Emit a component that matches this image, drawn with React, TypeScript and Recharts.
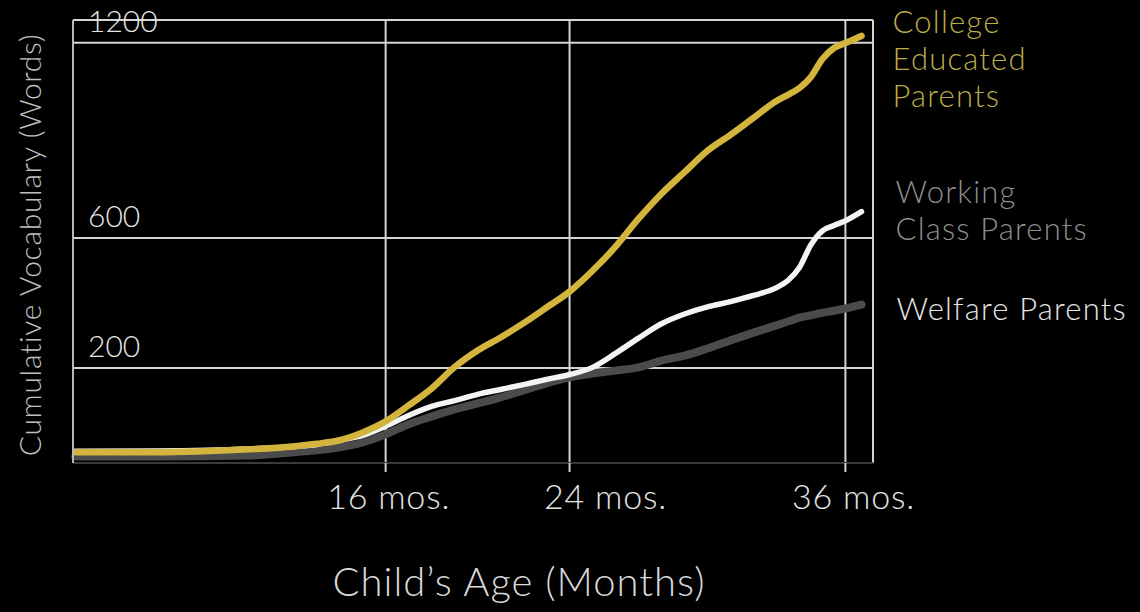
import React from "react";
import { LineChart, Line, XAxis, YAxis, CartesianGrid } from "recharts";

// ---- data ----
const months = [2.5, 6, 10, 12, 13, 14, 15, 16, 17, 18, 19, 20, 21, 22, 23, 24, 25, 26, 27, 28, 29, 30, 31, 32, 33, 33.5, 34, 34.5, 35, 35.5, 36, 36.7];
const collegeEducated = [-59, -59, -50, -41, -33, -22, 2, 36, 85, 137, 203, 254, 294, 338, 386, 435, 499, 573, 659, 736, 802, 868, 917, 969, 1021, 1040, 1061, 1095, 1150, 1184, 1199, 1221];
const workingClass = [-56, -55, -49, -41, -35, -22, -7, 21, 54, 82, 100, 119, 134, 149, 165, 180, 202, 245, 292, 336, 366, 388, 404, 423, 447, 469, 509, 579, 622, 638, 653, 681];
const welfare = [-72, -72, -69, -59, -53, -44, -29, -4, 27, 51, 73, 91, 110, 131, 153, 171, 183, 192, 202, 223, 238, 260, 285, 309, 331, 343, 355, 362, 370, 376, 383, 395];

const xTicks = [16, 24, 36];
const xTickSuffix = "mos.";
const yTicks = [200, 600, 1200];
const xTitle = "Child\u2019s Age (Months)";
const yTitle = "Cumulative Vocabulary (Words)";
const collegeLabel = ["College", "Educated", "Parents"];
const workingLabel = ["Working", "Class Parents"];
const welfareLabel = ["Welfare Parents"];

const data = months.map((m, i) => ({
  month: m,
  college: collegeEducated[i],
  working: workingClass[i],
  welfare: welfare[i],
}));

// ---- styling ----
const FONT = "Lato, 'Open Sans', sans-serif";
const GRID = "#d4d4d4";
const PLOT_LEFT = 73;
// horizontal nudge of each x tick label (layout only)
const xTickLabelShift: Record<number, number> = { 16: 3, 24: 36, 36: 8 };

const XTick = (props: any) => {
  const { x, payload } = props;
  const shift = xTickLabelShift[payload.value] ?? 5;
  return (
    <text
      x={x + shift}
      y={509}
      textAnchor="middle"
      fill="#e4e4e4"
      fontFamily={FONT}
      fontWeight={300}
      fontSize={34}
      letterSpacing={0.8}
    >
      {`${payload.value} ${xTickSuffix}`}
    </text>
  );
};

const YTick = (props: any) => {
  const { y, payload } = props;
  return (
    <text x={PLOT_LEFT + 15} y={y - 11} fill="#e6e6e6" fontFamily={FONT} fontWeight={300} fontSize={30}>
      {payload.value}
    </text>
  );
};

const XTitle = () => (
  <text
    x={519}
    y={581}
    textAnchor="middle"
    dominantBaseline="central"
    fill="#d8d8d8"
    fontFamily={FONT}
    fontWeight={300}
    fontSize={40}
    letterSpacing={1}
  >
    {xTitle}
  </text>
);

const YTitle = () => (
  <text
    x={28.5}
    y={245}
    textAnchor="middle"
    dominantBaseline="central"
    transform="rotate(-90, 28.5, 245)"
    fill="#c0c0c0"
    fontFamily={FONT}
    fontWeight={300}
    fontSize={30}
    letterSpacing={0.7}
  >
    {yTitle}
  </text>
);

const makeEndLabel = (lines: string[], color: string, dx: number, dy: number) => (props: any) => {
  const index = props.index;
  if (index !== months.length - 1) return null;
  const x = props.x ?? props.viewBox?.x;
  const y = props.y ?? props.viewBox?.y;
  if (x == null || y == null) return null;
  return (
    <text x={x + dx} y={y + dy} fill={color} fontFamily={FONT} fontWeight={300} fontSize={31} letterSpacing={1.2}>
      {lines.map((l, i) => (
        <tspan key={i} x={x + dx} dy={i === 0 ? 0 : 37}>
          {l}
        </tspan>
      ))}
    </text>
  );
};

export default function App() {
  return (
    <div style={{ position: "fixed", left: 0, top: 0, width: 1140, height: 612, background: "#000", overflow: "hidden" }}>
      <LineChart width={1140} height={612} data={data} margin={{ top: 20, right: 267, bottom: 0, left: 0 }}>
        <CartesianGrid stroke={GRID} strokeWidth={2} />
        <XAxis
          type="number"
          dataKey="month"
          domain={[2.4, 37.2]}
          ticks={xTicks}
          interval={0}
          height={149}
          axisLine={{ stroke: "#3a3a3a", strokeWidth: 2 }}
          tickLine={{ stroke: GRID, strokeWidth: 2 }}
          tickSize={9}
          tick={<XTick />}
          label={<XTitle />}
        />
        <YAxis
          type="number"
          domain={[-92, 1270]}
          ticks={yTicks}
          interval={0}
          width={73}
          axisLine={{ stroke: "#b8b8b8", strokeWidth: 2 }}
          tickLine={false}
          tick={<YTick />}
          label={<YTitle />}
        />
        <Line
          type="monotone"
          dataKey="welfare"
          stroke="#4b4b4b"
          strokeWidth={8}
          strokeLinecap="round"
          dot={false}
          activeDot={false}
          isAnimationActive={false}
          label={makeEndLabel(welfareLabel, "#e6e6e6", 35, 15)}
        />
        <Line
          type="monotone"
          dataKey="working"
          stroke="#f4f4f4"
          strokeWidth={5.5}
          strokeLinecap="round"
          dot={false}
          activeDot={false}
          isAnimationActive={false}
          label={makeEndLabel(workingLabel, "#8e8e8e", 34, -9)}
        />
        <Line
          type="monotone"
          dataKey="college"
          stroke="#d3b43d"
          strokeWidth={6.5}
          strokeLinecap="round"
          dot={false}
          activeDot={false}
          isAnimationActive={false}
          label={makeEndLabel(collegeLabel, "#bcac48", 31, -3)}
        />
      </LineChart>
    </div>
  );
}
